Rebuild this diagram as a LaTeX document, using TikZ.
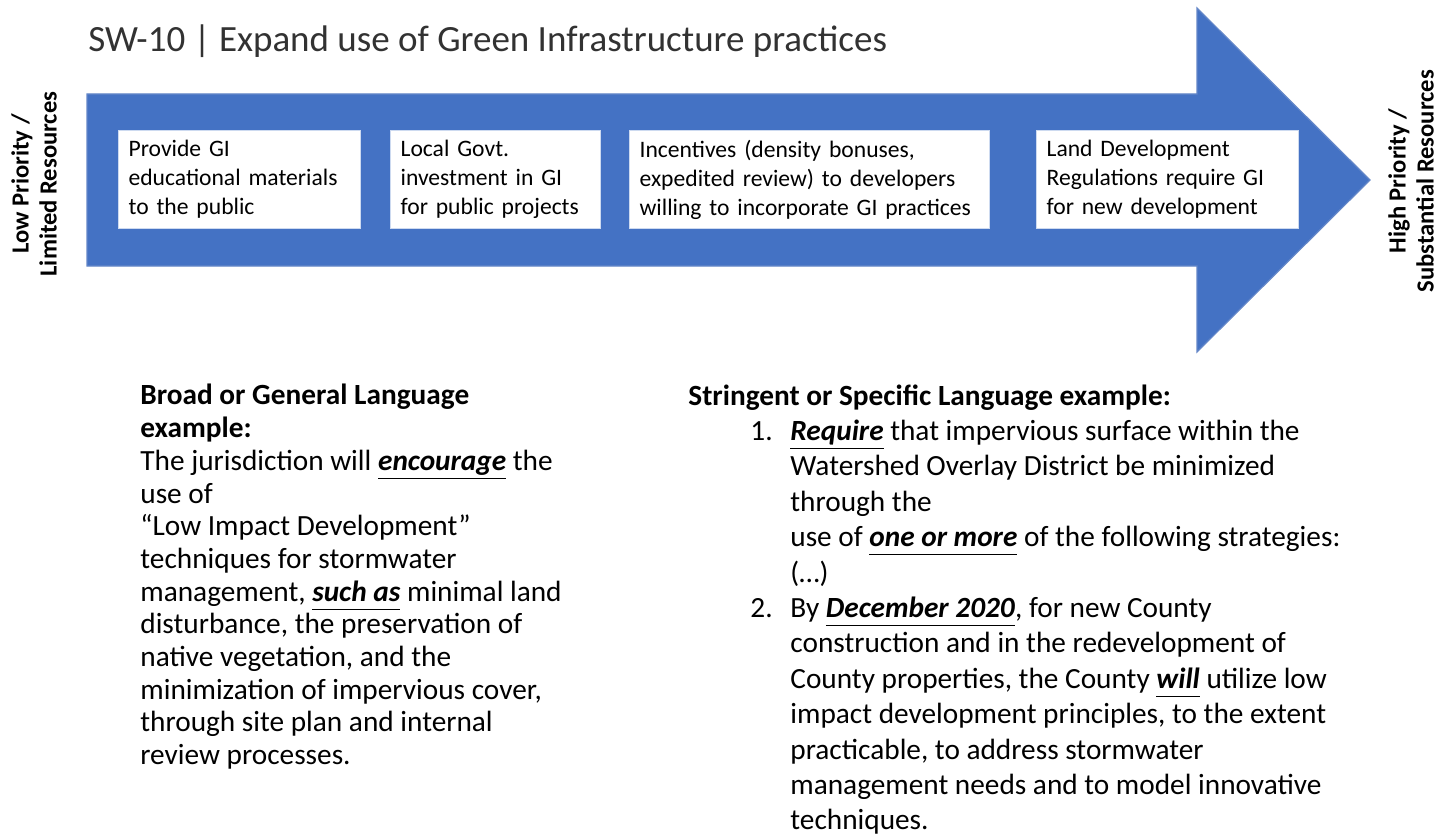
\documentclass[tikz,border=0pt]{standalone}
\usepackage{fontspec}
\setmainfont{Carlito}
\definecolor{arrowblue}{RGB}{68,114,196}
\definecolor{arrowedge}{RGB}{100,135,200}
\definecolor{boxedge}{RGB}{205,218,240}
\definecolor{titlegray}{RGB}{50,50,50}
% bold italic underlined keyword
\newcommand\keyword[1]{\underline{\textbf{\textit{#1}}\vphantom{g}}}
\begin{document}
\begin{tikzpicture}[x=0.5pt,y=-0.5pt,
  gibox/.style={draw=boxedge, line width=0.6pt, fill=white, anchor=north west,
    inner xsep=5pt, align=left, minimum height=49pt, font=\fontsize{11.8}{14.5}\selectfont},
  sidelabel/.style={rotate=90, align=center, font=\bfseries\fontsize{12.3}{14}\selectfont},
  bodytext/.style={anchor=north west, align=left, inner sep=0pt}]
\useasboundingbox (0,0) rectangle (1450,840);
\fill[white] (0,0) rectangle (1450,840);

% title
\node[anchor=west, text=titlegray, font=\fontsize{18.5}{22}\selectfont, inner sep=0pt] (title) at (88,41)
  {SW-10 | Expand use of Green Infrastructure practices};

% the priority arrow
\filldraw[fill=arrowblue, draw=arrowedge, line width=0.6pt]
  (87,94) -- (1197,94) -- (1197,8) -- (1370,180) -- (1197,352) -- (1197,266) -- (87,266) -- cycle;

% steps along the arrow
\node[gibox, minimum width=121pt, text width=111pt] (s1) at (118,130)
  {Provide GI\\educational materials\\to the public};
\node[gibox, minimum width=105pt, text width=95pt] (s2) at (390,130)
  {Local Govt.\\investment in GI\\for public projects};
\node[gibox, minimum width=180pt, text width=170pt] (s3) at (629,130)
  {Incentives (density bonuses,\\expedited review) to developers\\willing to incorporate GI practices};
\node[gibox, minimum width=131pt, text width=121pt] (s4) at (1036,130)
  {Land Development\\Regulations require GI\\for new development};

% end labels
\node[sidelabel] (low) at (34,184) {Low Priority /\\Limited Resources};
\node[sidelabel] (high) at (1411,181) {High Priority /\\Substantial Resources};

% broad language example
\node[bodytext, font=\fontsize{14.65}{16.35}\selectfont] (broad) at (140,384)
  {\textbf{Broad or General Language}\\
   \textbf{example:}\\
   The jurisdiction will \keyword{encourage} the\\
   use of\\
   “Low Impact Development”\\
   techniques for stormwater\\
   management, \keyword{such as} minimal land\\
   disturbance, the preservation of\\
   native vegetation, and the\\
   minimization of impervious cover,\\
   through site plan and internal\\
   review processes.};

% stringent language example
\node[bodytext, font=\fontsize{14.65}{17.7}\selectfont] (strict) at (688,384)
  {\textbf{Stringent or Specific Language example:}\\
   \hspace*{31pt}\makebox[20pt][l]{1.}\keyword{Require} that impervious surface within the\\
   \hspace*{51pt}Watershed Overlay District be minimized\\
   \hspace*{51pt}through the\\
   \hspace*{51pt}use of \keyword{one or more} of the following strategies:\\
   \hspace*{51pt}(…)\\
   \hspace*{31pt}\makebox[20pt][l]{2.}By \keyword{December 2020}, for new County\\
   \hspace*{51pt}construction and in the redevelopment of\\
   \hspace*{51pt}County properties, the County \keyword{will} utilize low\\
   \hspace*{51pt}impact development principles, to the extent\\
   \hspace*{51pt}practicable, to address stormwater\\
   \hspace*{51pt}management needs and to model innovative\\
   \hspace*{51pt}techniques.};
\end{tikzpicture}
\end{document}
